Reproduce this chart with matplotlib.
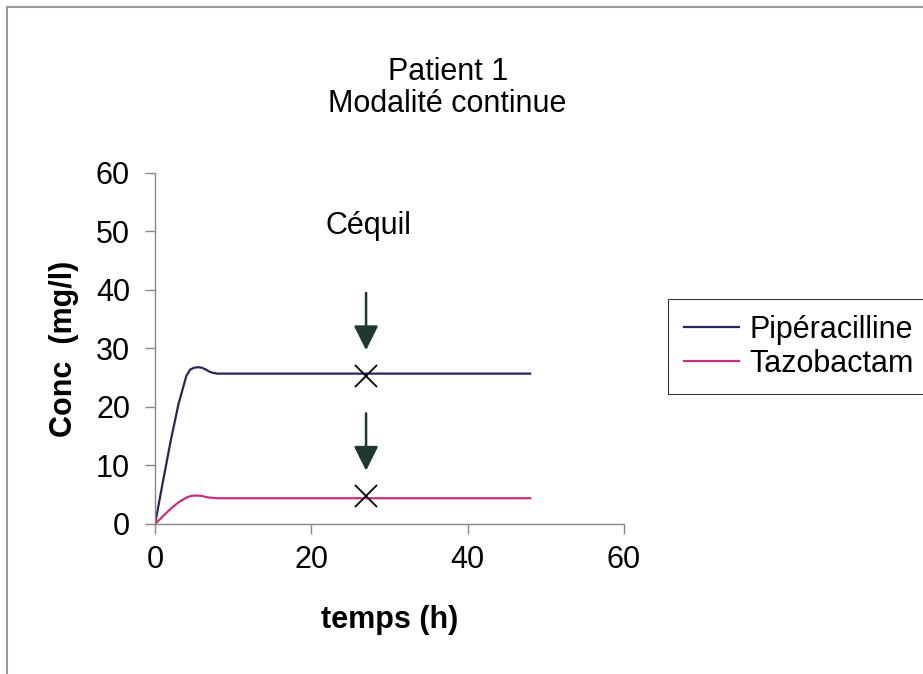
import matplotlib
matplotlib.use("Agg")
import matplotlib.pyplot as plt
from matplotlib.patches import Rectangle

plt.rcParams['font.family'] = ['Liberation Sans', 'DejaVu Sans']
plt.rcParams['font.size'] = 22

# --- données ---
temps = [0, 1, 2, 3, 4, 4.5, 5, 5.5, 6, 6.5, 7, 7.5, 8, 10, 20, 30, 40, 48]
piperacilline = [0, 7.2, 14.2, 20.5, 25.3, 26.4, 26.7, 26.8, 26.7, 26.4, 26.0, 25.8,
                 25.7, 25.7, 25.7, 25.7, 25.7, 25.7]
tazobactam = [0, 1.3, 2.6, 3.7, 4.5, 4.75, 4.85, 4.85, 4.8, 4.6, 4.5, 4.45,
              4.4, 4.4, 4.4, 4.4, 4.4, 4.4]

# points d'équilibre (Céquil)
cequil_t = [27, 27]
cequil_conc = [25.3, 4.7]

col_pip = '#26265a'
col_taz = '#c8307e'
col_fleche = '#1f3a2c'

fig = plt.figure(figsize=(9.23, 6.74), dpi=100)
ax = fig.add_axes([0.168, 0.2226, 0.508, 0.5208])

ax.plot(temps, piperacilline, color=col_pip, lw=1.6, label='Pipéracilline')
ax.plot(temps, tazobactam, color=col_taz, lw=1.6, label='Tazobactam')

# croix + flèches aux points Céquil
ax.plot(cequil_t, cequil_conc, ls='none', marker='x', ms=16, mew=1.3, color='black')
for t, c in zip(cequil_t, cequil_conc):
    ax.annotate('', xy=(t, c + 4.4), xytext=(t, c + 14.2),
                arrowprops=dict(arrowstyle='-|>,head_length=1.0,head_width=0.5',
                                mutation_scale=15, color=col_fleche, lw=1.8,
                                shrinkA=0, shrinkB=0))
ax.text(cequil_t[0] + 0.3, 51, 'Céquil', ha='center', va='center')

ax.set_xlim(0, 60)
ax.set_ylim(0, 60)
ax.set_xticks([0, 20, 40, 60])
ax.set_yticks(range(0, 61, 10))
for s in ['top', 'right']:
    ax.spines[s].set_visible(False)
for s in ['left', 'bottom']:
    ax.spines[s].set_color('#888888')
    ax.spines[s].set_linewidth(1.0)
ax.tick_params(direction='out', length=7, width=1.0, color='#888888')
ax.tick_params(axis='x', pad=8)
ax.tick_params(axis='y', pad=11)
ax.set_xlabel('temps (h)', fontweight='bold', labelpad=22)
ax.set_ylabel('Conc  (mg/l)', fontweight='bold', labelpad=12)

fig.text(0.485, 0.893, 'Patient 1', ha='center', va='center')
fig.text(0.485, 0.845, 'Modalité continue', ha='center', va='center')

leg = fig.legend(loc='upper left', bbox_to_anchor=(0.724, 0.556), frameon=True,
                 fancybox=False, edgecolor='black', handlelength=1.8,
                 handletextpad=0.35, labelspacing=0.15, borderpad=0.5,
                 borderaxespad=0, fontsize=22)
leg.get_frame().set_linewidth(0.8)

# cadre gris (haut et gauche visibles)
fig.patches.append(Rectangle((0.008, -0.1), 1.2, 1.09, transform=fig.transFigure,
                             fill=False, edgecolor='#999999', lw=1.5))

fig.savefig('out.png', dpi=100)
